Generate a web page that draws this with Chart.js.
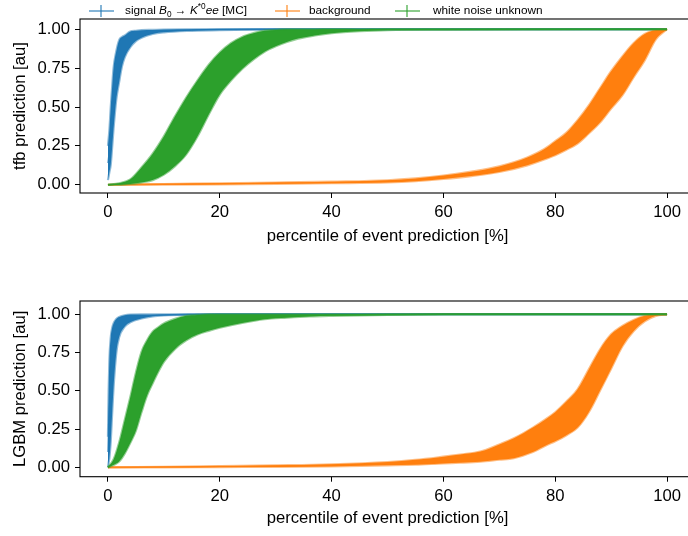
<!DOCTYPE html>
<html>
<head>
<meta charset="utf-8">
<script src="https://cdn.jsdelivr.net/npm/chart.js@4.4.0/dist/chart.umd.min.js"></script>
<style>
html, body { margin:0; padding:0; background:#fff; overflow:hidden; }
#wrap { position:relative; width:688px; height:536px; overflow:hidden; font-family:"Liberation Sans", Arial, sans-serif; }
canvas { position:absolute; left:0; }
#c1 { top:0; }
#c2 { top:270px; }
.hl { position:absolute; height:2px; width:25px; top:10px; }
.ht { position:absolute; width:2px; height:12px; top:5px; }
.lt { position:absolute; top:3px; font-size:11.8px; line-height:14px; color:#000; white-space:nowrap; }
.lt sub, .lt sup { font-size:70%; line-height:0; }
</style>
</head>
<body>
<div id="wrap">
  <canvas id="c1" width="700" height="250"></canvas>
  <canvas id="c2" width="700" height="262"></canvas>
  <div id="legend">
    <div class="hl" style="left:89px;background:rgba(31,119,180,0.55)"></div>
    <div class="ht" style="left:100px;background:rgba(31,119,180,0.55)"></div>
    <div class="lt" style="left:125px">signal <i>B</i><sub>0</sub> → <i>K</i><sup>*0</sup><i>ee</i> [MC]</div>
    <div class="hl" style="left:275px;background:rgba(255,127,14,0.55)"></div>
    <div class="ht" style="left:286px;background:rgba(255,127,14,0.55)"></div>
    <div class="lt" style="left:309px">background</div>
    <div class="hl" style="left:395px;background:rgba(44,160,44,0.55)"></div>
    <div class="ht" style="left:406px;background:rgba(44,160,44,0.55)"></div>
    <div class="lt" style="left:433px">white noise unknown</div>
  </div>
</div>
<script>
// values: percentile (x), mean prediction, error bar half-height

// tfb model
const tfbSigX   = [0, 0.25, 0.5, 0.75, 1, 1.5, 2, 2.5, 3, 4, 5, 6, 8, 10, 15, 20, 30, 50, 100];
const tfbSigY   = [0.14, 0.215, 0.315, 0.435, 0.555, 0.705, 0.795, 0.855, 0.89, 0.935, 0.957, 0.97, 0.983, 0.989, 0.995, 0.998, 1.0, 1.0, 1.0];
const tfbSigErr = [0.11, 0.135, 0.185, 0.195, 0.195, 0.155, 0.135, 0.095, 0.07, 0.05, 0.033, 0.024, 0.013, 0.009, 0.005, 0.003, 0.001, 0.001, 0.001];

const tfbBkgX   = [0, 10, 20, 30, 40, 50, 55, 60, 65, 70, 75, 78, 80, 82, 84, 86, 88, 90, 92, 94, 96, 98, 100];
const tfbBkgY   = [0, 0.003, 0.006, 0.01, 0.015, 0.022, 0.032, 0.048, 0.07, 0.1, 0.15, 0.195, 0.235, 0.28, 0.34, 0.42, 0.51, 0.61, 0.7, 0.8, 0.885, 0.965, 1.0];
const tfbBkgErr = [0, 0.002, 0.003, 0.004, 0.005, 0.007, 0.009, 0.011, 0.014, 0.018, 0.025, 0.033, 0.045, 0.055, 0.075, 0.09, 0.11, 0.12, 0.125, 0.11, 0.085, 0.03, 0];

const tfbNoiseX   = [0, 2, 4, 6, 8, 10, 12, 14, 16, 18, 20, 22, 24, 26, 28, 30, 32, 34, 37, 40, 45, 50, 60, 100];
const tfbNoiseY   = [0, 0.005, 0.02, 0.063, 0.115, 0.188, 0.28, 0.378, 0.49, 0.61, 0.715, 0.79, 0.848, 0.89, 0.923, 0.943, 0.959, 0.97, 0.98, 0.988, 0.994, 0.998, 0.999, 1.0];
const tfbNoiseErr = [0, 0.005, 0.015, 0.048, 0.085, 0.123, 0.16, 0.183, 0.18, 0.16, 0.135, 0.12, 0.103, 0.085, 0.068, 0.053, 0.041, 0.03, 0.02, 0.013, 0.006, 0.003, 0.002, 0.001];

// LGBM model
const lgbSigX   = [0, 0.12, 0.25, 0.5, 0.75, 1, 1.5, 2, 3, 4, 6, 8, 10, 15, 20, 100];
const lgbSigY   = [0.1, 0.265, 0.38, 0.51, 0.63, 0.73, 0.86, 0.916, 0.957, 0.973, 0.986, 0.993, 0.996, 0.999, 1.0, 1.0];
const lgbSigErr = [0.1, 0.235, 0.32, 0.34, 0.28, 0.21, 0.11, 0.066, 0.037, 0.025, 0.013, 0.006, 0.003, 0.001, 0.001, 0.001];

const lgbBkgX   = [0, 10, 20, 30, 40, 50, 55, 60, 63, 66.6, 70, 72.6, 76, 78.5, 80, 82, 84, 86, 88, 90, 92, 94, 96, 98, 100];
const lgbBkgY   = [0, 0.002, 0.005, 0.008, 0.013, 0.024, 0.033, 0.048, 0.057, 0.07, 0.1, 0.125, 0.18, 0.233, 0.265, 0.32, 0.385, 0.5, 0.635, 0.757, 0.857, 0.926, 0.972, 0.995, 1.0];
const lgbBkgErr = [0, 0.002, 0.003, 0.005, 0.007, 0.011, 0.016, 0.022, 0.027, 0.033, 0.05, 0.065, 0.08, 0.087, 0.095, 0.11, 0.125, 0.14, 0.135, 0.112, 0.067, 0.037, 0.018, 0.005, 0];

const lgbNoiseX   = [0, 1, 2, 3, 4, 5, 6, 7, 8, 9, 10, 12, 14, 16, 18, 20, 24, 28, 32, 36, 40, 50, 60, 100];
const lgbNoiseY   = [0, 0.033, 0.1, 0.2, 0.31, 0.43, 0.557, 0.65, 0.718, 0.77, 0.815, 0.872, 0.91, 0.932, 0.946, 0.956, 0.972, 0.984, 0.989, 0.993, 0.995, 0.998, 1.0, 1.0];
const lgbNoiseErr = [0, 0.018, 0.062, 0.11, 0.15, 0.19, 0.197, 0.18, 0.168, 0.145, 0.125, 0.098, 0.08, 0.064, 0.054, 0.044, 0.028, 0.016, 0.011, 0.007, 0.005, 0.002, 0.001, 0.001];

const xTitle = 'percentile of event prediction [%]';
const BLUE = '31,119,180', ORANGE = '255,127,14', GREEN = '44,160,44';
const FONT = '"Liberation Sans", Arial, sans-serif';

Chart.defaults.color = '#000';
Chart.defaults.font.family = FONT;

// error band = fill between lower and upper edge, plus the mean line
function band(xs, ys, errs, rgb, order) {
  const common = { pointRadius: 0, cubicInterpolationMode: 'monotone', order: order };
  return [
    Object.assign({ data: xs.map((x, i) => ({ x: x, y: ys[i] - errs[i] })), borderColor: `rgba(${rgb},0.5)`, borderWidth: 2.2, fill: false }, common),
    Object.assign({ data: xs.map((x, i) => ({ x: x, y: ys[i] + errs[i] })), borderColor: `rgba(${rgb},0.5)`, borderWidth: 2.2,
                    fill: '-1', backgroundColor: `rgb(${rgb})` }, common),
    Object.assign({ data: xs.map((x, i) => ({ x: x, y: ys[i] })), borderColor: `rgba(${rgb},0.7)`, borderWidth: 1.5, fill: false }, common)
  ];
}

// matplotlib-like box around the axes
const boxPlugin = {
  id: 'box',
  afterDraw(chart) {
    const a = chart.chartArea, ctx = chart.ctx;
    ctx.save();
    ctx.strokeStyle = '#000';
    ctx.lineWidth = 1.1;
    ctx.strokeRect(a.left, a.top, a.right - a.left, a.bottom - a.top);
    ctx.restore();
  }
};

function makeChart(id, yTitle, ymin, ymax, padTop, xAxisH, sets) {
  return new Chart(document.getElementById(id), {
    type: 'line',
    data: { datasets: sets },
    plugins: [boxPlugin],
    options: {
      responsive: false,
      animation: false,
      layout: { padding: { top: padTop, right: 5, left: 0, bottom: 0 } },
      plugins: { legend: { display: false }, tooltip: { enabled: false } },
      scales: {
        x: {
          type: 'linear', min: -5, max: 105,
          afterFit: s => { s.height = xAxisH; },
          border: { display: false },
          grid: { drawOnChartArea: false, drawTicks: true, tickLength: 5, color: '#000', tickWidth: 1 },
          ticks: { stepSize: 20, includeBounds: false, padding: 4.5, font: { size: 16.67 }, maxRotation: 0 },
          title: { display: true, text: xTitle, font: { size: 16.67 }, padding: { top: 4, bottom: 4 } }
        },
        y: {
          type: 'linear', min: ymin, max: ymax,
          afterFit: s => { s.width = 80; },
          border: { display: false },
          grid: { drawOnChartArea: false, drawTicks: true, tickLength: 5, color: '#000', tickWidth: 1 },
          ticks: { stepSize: 0.25, includeBounds: false, padding: 5, font: { size: 16.67 }, callback: v => v.toFixed(2) },
          title: { display: true, text: yTitle, font: { size: 16.67 }, padding: { top: 10, bottom: 4 } }
        }
      }
    }
  });
}

makeChart('c1', 'tfb prediction [au]', -0.053, 1.066, 19, 57, [].concat(
  band(tfbNoiseX, tfbNoiseY, tfbNoiseErr, GREEN, 0),
  band(tfbBkgX, tfbBkgY, tfbBkgErr, ORANGE, 1),
  band(tfbSigX, tfbSigY, tfbSigErr, BLUE, 2)
));

makeChart('c2', 'LGBM prediction [au]', -0.061, 1.087, 31, 55.3, [].concat(
  band(lgbNoiseX, lgbNoiseY, lgbNoiseErr, GREEN, 0),
  band(lgbBkgX, lgbBkgY, lgbBkgErr, ORANGE, 1),
  band(lgbSigX, lgbSigY, lgbSigErr, BLUE, 2)
));
</script>
</body>
</html>
